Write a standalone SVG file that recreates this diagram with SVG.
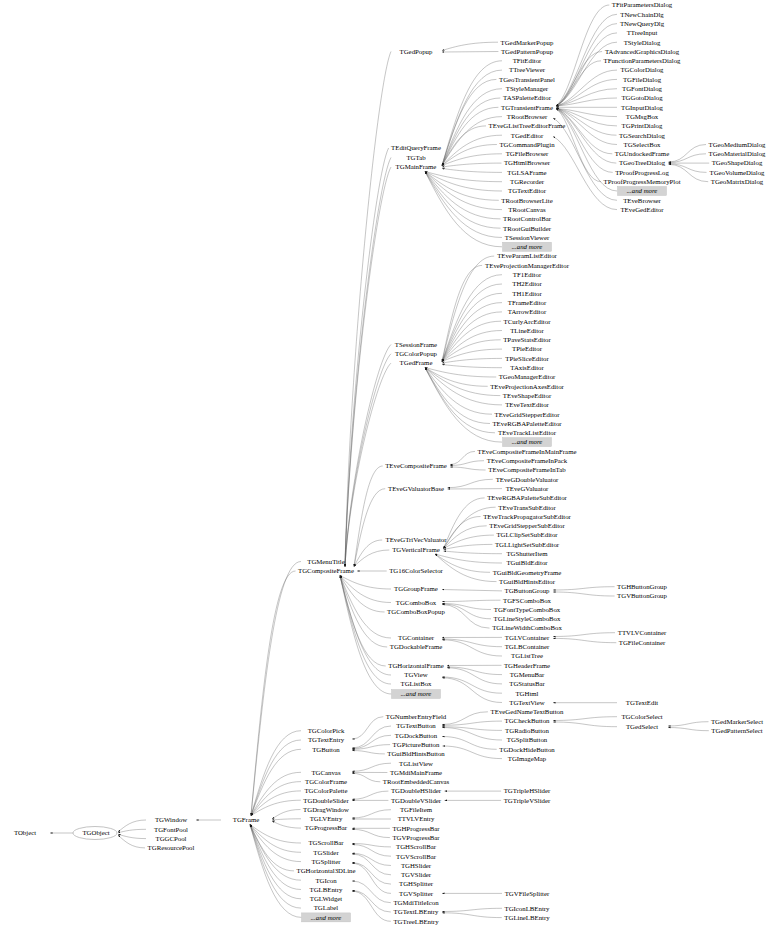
<svg xmlns="http://www.w3.org/2000/svg" width="768" height="928" viewBox="0 0 768 928">
<style>
#nodes text{font-family:"Liberation Serif","Times New Roman",serif;font-size:6.8px;text-anchor:middle;fill:#000}
#nodes text.i{font-style:italic}
#edges path{fill:none;stroke:#5a5a5a;stroke-width:.35;marker-end:url(#a)}
rect.m{fill:#d3d3d3;stroke:#bdbdbd;stroke-width:.4}
ellipse.o{fill:none;stroke:#9a9a9a;stroke-width:.6}
</style>
<defs>
<marker id="a" viewBox="-2.5 -1 2.8 2" refX="0" refY="0" markerWidth="2.8" markerHeight="2" markerUnits="userSpaceOnUse" orient="auto"><path d="M0,0 L-2.5,-0.85 L-2.5,0.85 z" fill="#111" stroke="none"/></marker>
</defs>
<rect width="768" height="928" fill="#fff"/>
<g id="edges">
<path d="M73,833 L50,833"/>
<path d="M146,820 C132,820 125,826 118,832"/>
<path d="M146,829.3 C132,829.3 125,831 118,832.8"/>
<path d="M146,838.6 C132,838.6 125,836.3 118,834.2"/>
<path d="M145,847.9 C131.5,847.9 124.8,841.4 118,835"/>
<path d="M221,820 L196,820"/>
<path d="M301,561.5 C276,561.5 263.5,688.5 251,815.5"/>
<path d="M295.5,571 C273.2,571 262.1,693.2 251,815.5"/>
<path d="M301,730.7 C276,730.7 263.5,773.1 251,815.5"/>
<path d="M301,740 C276,740 263.5,777.8 251,815.5"/>
<path d="M301,749.3 C276,749.3 263.5,782.4 251,815.5"/>
<path d="M301,772.3 C276,772.3 263.5,793.9 251,815.5"/>
<path d="M301,781.6 C276,781.6 263.5,798.6 251,815.5"/>
<path d="M301,790.9 C276,790.9 263.5,803.2 251,815.5"/>
<path d="M300.8,800.2 C275.9,800.2 263.5,807.9 251,815.5"/>
<path d="M300.5,809.5 C286.2,809.5 279.1,814.2 272,819"/>
<path d="M301,818.8 C286.5,818.8 279.2,819.4 272,820"/>
<path d="M301,828.1 C286.5,828.1 279.2,824.5 272,821"/>
<path d="M301,843 C275.5,843 262.8,833.8 250,824.5"/>
<path d="M301,852.3 C275.5,852.3 262.8,838.4 250,824.5"/>
<path d="M301,861.6 C275.5,861.6 262.8,843 250,824.5"/>
<path d="M294,870.9 C272,870.9 261,847.7 250,824.5"/>
<path d="M301,880.2 C275.5,880.2 262.8,852.4 250,824.5"/>
<path d="M301,889.5 C275.5,889.5 262.8,857 250,824.5"/>
<path d="M301,898.8 C275.5,898.8 262.8,861.7 250,824.5"/>
<path d="M301,908.1 C275.5,908.1 262.8,866.3 250,824.5"/>
<path d="M301.5,917.4 C275.8,917.4 262.8,871 250,824.5"/>
<path d="M391,51.5 C377.2,82.4 349.6,360.5 345,566.5"/>
<path d="M388.6,148 C375.5,173.1 349.4,399.1 345,566.5"/>
<path d="M391,157.5 C377.2,182 349.6,402.9 345,566.5"/>
<path d="M391,167 C377.2,191 349.6,406.7 345,566.5"/>
<path d="M391,344.5 C377.2,357.8 349.6,477.7 345,566.5"/>
<path d="M391,353.8 C377.2,366.6 349.6,481.4 345,566.5"/>
<path d="M391,363.1 C377.2,375.3 349.6,485.1 345,566.5"/>
<path d="M382.7,466 C368.3,466 361.2,516.2 354,566.5"/>
<path d="M385.2,488.7 C369.6,488.7 361.8,527.6 354,566.5"/>
<path d="M382.2,540 C368.1,540 361,553.2 354,566.5"/>
<path d="M389.3,550 C371.6,550 362.8,558.2 354,566.5"/>
<path d="M386.7,571 L357,571"/>
<path d="M391,589 C365.5,589 352.8,582.2 340,575.5"/>
<path d="M391,602.5 C365.5,602.5 352.8,589 340,575.5"/>
<path d="M384.6,612 C362.3,612 351.2,593.8 340,575.5"/>
<path d="M391,638 C365.5,638 352.8,606.8 340,575.5"/>
<path d="M387.2,647 C363.6,647 351.8,611.2 340,575.5"/>
<path d="M385.7,666 C362.9,666 351.4,620.8 340,575.5"/>
<path d="M391,675 C365.5,675 352.8,625.2 340,575.5"/>
<path d="M391,684 C365.5,684 352.8,629.8 340,575.5"/>
<path d="M391.5,694 C365.8,694 352.8,634.8 340,575.5"/>
<path d="M498,42.2 C470,42.2 456,46.3 442,50.5"/>
<path d="M498.4,51.5 L442,52"/>
<path d="M502,60.8 C472,60.8 457,113.2 442,165.5"/>
<path d="M502,70.1 C472,70.1 457,117.8 442,165.5"/>
<path d="M496.4,79.4 C469.2,79.4 455.6,122.4 442,165.5"/>
<path d="M502,88.7 C472,88.7 457,127.1 442,165.5"/>
<path d="M500.3,98 C471.2,98 456.6,131.8 442,165.5"/>
<path d="M498.4,107.3 C470.2,107.3 456.1,136.4 442,165.5"/>
<path d="M502,116.6 C472,116.6 457,141 442,165.5"/>
<path d="M486,125.9 C464,125.9 453,145.7 442,165.5"/>
<path d="M502,135.2 C472,135.2 457,150.4 442,165.5"/>
<path d="M496.9,144.5 C469.4,144.5 455.7,155 442,165.5"/>
<path d="M502,153.8 C472,153.8 457,159.6 442,165.5"/>
<path d="M501.5,163.1 C471.7,163.1 456.9,165 442,167"/>
<path d="M502,172.4 C472,172.4 457,170.4 442,168.5"/>
<path d="M502,181.7 C463.5,181.7 444.2,176.6 425,171.5"/>
<path d="M502,191 C463.5,191 444.2,181.2 425,171.5"/>
<path d="M498.8,200.3 C461.9,200.3 443.4,185.9 425,171.5"/>
<path d="M502,209.6 C463.5,209.6 444.2,190.5 425,171.5"/>
<path d="M500.5,218.9 C462.7,218.9 443.9,195.2 425,171.5"/>
<path d="M500.5,228.2 C462.7,228.2 443.9,199.8 425,171.5"/>
<path d="M502,237.5 C463.5,237.5 444.2,204.5 425,171.5"/>
<path d="M502,246.8 C463.5,246.8 444.2,209.1 425,171.5"/>
<path d="M494.2,256.1 C468.1,256.1 455,308.8 442,361.5"/>
<path d="M482.1,265.4 C462.1,265.4 452,313.5 442,361.5"/>
<path d="M502,274.7 C472,274.7 457,318.1 442,361.5"/>
<path d="M502,284 C472,284 457,322.8 442,361.5"/>
<path d="M502,293.3 C472,293.3 457,327.4 442,361.5"/>
<path d="M502,302.6 C472,302.6 457,332 442,361.5"/>
<path d="M502,311.9 C472,311.9 457,336.7 442,361.5"/>
<path d="M501.1,321.2 C471.5,321.2 456.8,341.4 442,361.5"/>
<path d="M502,330.5 C472,330.5 457,346 442,361.5"/>
<path d="M500.7,339.8 C471.3,339.8 456.7,350.6 442,361.5"/>
<path d="M502,349.1 C472,349.1 457,355.3 442,361.5"/>
<path d="M502,358.4 C472,358.4 457,360.7 442,363"/>
<path d="M502,367.7 C472,367.7 457,366.1 442,364.5"/>
<path d="M496.2,377 C460.6,377 442.8,372.2 425,367.5"/>
<path d="M487.7,386.3 C456.4,386.3 440.7,376.9 425,367.5"/>
<path d="M500.3,395.6 C462.7,395.6 443.8,381.5 425,367.5"/>
<path d="M502,404.9 C463.5,404.9 444.2,386.2 425,367.5"/>
<path d="M492,414.2 C458.5,414.2 441.8,390.8 425,367.5"/>
<path d="M490,423.5 C457.5,423.5 441.2,395.5 425,367.5"/>
<path d="M495,432.8 C460,432.8 442.5,400.2 425,367.5"/>
<path d="M502,442.1 C463.5,442.1 444.2,404.8 425,367.5"/>
<path d="M609.3,5 C585.3,5 574.7,90.9 556,106"/>
<path d="M617,14.3 C589.6,14.3 577.4,92.2 556,106"/>
<path d="M617,23.6 C589.6,23.6 577.4,93.6 556,106"/>
<path d="M617,32.9 C589.6,32.9 577.4,95 556,106"/>
<path d="M617,42.2 C589.6,42.2 577.4,96.4 556,106"/>
<path d="M602.1,51.5 C581.4,51.5 572.1,97.8 556,106"/>
<path d="M601,60.8 C580.8,60.8 571.8,99.2 556,106"/>
<path d="M617,70.1 C589.6,70.1 577.4,100.6 556,106"/>
<path d="M617,79.4 C589.6,79.4 577.4,102 556,106"/>
<path d="M617,88.7 C589.6,88.7 577.4,103.4 556,106"/>
<path d="M617,98 C589.6,98 577.4,104.8 556,106"/>
<path d="M617,107.3 L556,107.3"/>
<path d="M617,116.6 C589.6,116.6 577.4,109.7 556,108.5"/>
<path d="M617,125.9 C589.6,125.9 577.4,111.1 556,108.5"/>
<path d="M616.5,135.2 C589.3,135.2 577.2,112.5 556,108.5"/>
<path d="M617,144.5 C589.6,144.5 577.4,113.9 556,108.5"/>
<path d="M612.3,153.8 C587,153.8 575.7,115.3 556,108.5"/>
<path d="M616.3,163.1 C589.2,163.1 577.1,116.7 556,108.5"/>
<path d="M612.7,172.4 C587.2,172.4 575.8,118.1 556,108.5"/>
<path d="M601,181.7 C580.8,181.7 571.8,119.5 556,108.5"/>
<path d="M617,191 C589.6,191 577.4,120.9 556,108.5"/>
<path d="M617,200.3 C588.2,200.3 575.4,130.3 553,118"/>
<path d="M617,209.6 C588.2,209.6 575.4,147.5 553,136.5"/>
<path d="M706,144.5 C687.2,144.5 687.2,162 668.5,162"/>
<path d="M706,153.8 C687.2,153.8 687.2,162.5 668.5,162.5"/>
<path d="M709.2,163.1 L668.5,163.1"/>
<path d="M706.5,172.4 C687.5,172.4 687.5,163.8 668.5,163.8"/>
<path d="M708.2,181.7 C688.3,181.7 688.3,164.3 668.5,164.3"/>
<path d="M475,451.4 C462.5,451.4 462.5,464.5 450,464.5"/>
<path d="M484,460.7 C467,460.7 467,465.5 450,465.5"/>
<path d="M485.6,470 C467.8,470 467.8,467 450,467"/>
<path d="M492.8,479.3 C470.2,479.3 470.2,487.7 447.5,487.7"/>
<path d="M502,488.6 L447.5,489"/>
<path d="M484.6,497.9 C464,497.9 453.8,523.2 443.5,548.5"/>
<path d="M495.6,507.2 C469.5,507.2 456.5,527.8 443.5,548.5"/>
<path d="M480.5,516.5 C462,516.5 452.8,532.5 443.5,548.5"/>
<path d="M486.7,525.8 C465.1,525.8 454.3,537.2 443.5,548.5"/>
<path d="M493.9,535.1 C468.7,535.1 456.1,541.8 443.5,548.5"/>
<path d="M492.4,544.4 C468,544.4 455.7,547 443.5,549.5"/>
<path d="M502,553.7 C472.8,553.7 458.1,552.4 443.5,551"/>
<path d="M502,563 C468.5,563 451.8,558.5 435,554"/>
<path d="M490.1,572.3 C462.5,572.3 448.8,563.2 435,554"/>
<path d="M496.5,581.6 C465.8,581.6 450.4,567.8 435,554"/>
<path d="M502,590.9 L442,589.5"/>
<path d="M614.6,586.7 C584,586.7 584,590 553,590"/>
<path d="M614.6,596 C584,596 584,592 553,592"/>
<path d="M500.5,600.2 C471,600.2 471,601.5 442,601.5"/>
<path d="M491,609.5 C466.5,609.5 466.5,603.5 442,603.5"/>
<path d="M491,618.8 C466.5,618.8 466.5,604 442,604"/>
<path d="M489.5,628.1 C465.7,628.1 465.7,604.5 442,604.5"/>
<path d="M502,637.4 L442,637.5"/>
<path d="M502,646.7 C472,646.7 472,639 442,639"/>
<path d="M502,656 C472,656 472,639.8 442,639.8"/>
<path d="M615,632.7 C584,632.7 584,636.5 553,636.5"/>
<path d="M616.3,642.7 C584.6,642.7 584.6,638.4 553,638.4"/>
<path d="M501.5,665.3 L447,665.5"/>
<path d="M502,674.6 C474.5,674.6 474.5,667 447,667"/>
<path d="M502,683.9 C474.5,683.9 474.5,667.8 447,667.8"/>
<path d="M502,693.2 C472,693.2 472,677 442,677"/>
<path d="M502,702.5 C472,702.5 472,677.8 442,677.8"/>
<path d="M617,702.7 L553,702.7"/>
<path d="M383.3,716.7 C367.6,716.7 367.6,739 352,739"/>
<path d="M391,726 C371.5,726 371.5,748 352,748"/>
<path d="M391,735.3 C371.5,735.3 371.5,748.7 352,748.7"/>
<path d="M390.1,744.6 C371,744.6 371,749.3 352,749.3"/>
<path d="M384.8,753.9 C368.4,753.9 368.4,750.5 352,750.5"/>
<path d="M487.9,711.8 C465,711.8 465,724.5 442,724.5"/>
<path d="M502,721.1 C472,721.1 472,725.3 442,725.3"/>
<path d="M502,730.4 C472,730.4 472,726.8 442,726.8"/>
<path d="M502,740 C472,740 472,727.5 442,727.5"/>
<path d="M496.7,749.3 C469.3,749.3 469.3,736.5 442,736.5"/>
<path d="M502,758.6 C472,758.6 472,746 442.5,746"/>
<path d="M617,716.7 C585,716.7 585,720.5 553,720.5"/>
<path d="M617,726.7 C585,726.7 585,722 553,722"/>
<path d="M708.5,721.7 C688.2,721.7 688.2,726 668,726"/>
<path d="M708.8,730.7 C688.4,730.7 688.4,727.5 668,727.5"/>
<path d="M391,763.2 C371.5,763.2 371.5,771.3 352,771.3"/>
<path d="M387.4,772.5 L352,772.4"/>
<path d="M380.3,781.8 C366.2,781.8 366.2,773.3 352,773.3"/>
<path d="M388.4,791.1 C370.2,791.1 370.2,799.3 352,799.3"/>
<path d="M388.4,800.4 L352,800.4"/>
<path d="M501.1,791.1 L444.5,791.1"/>
<path d="M501.1,800.4 L444.5,800.4"/>
<path d="M391,809.7 C371.5,809.7 371.5,818 352,818"/>
<path d="M391,819 L352,819"/>
<path d="M389.9,828.3 L352,828.3"/>
<path d="M389.9,837.6 C371,837.6 371,829.3 352,829.3"/>
<path d="M391,846.9 C371.5,846.9 371.5,843.5 352,843.5"/>
<path d="M391,856.2 C371.5,856.2 371.5,844.5 352,844.5"/>
<path d="M391,865.5 C371.5,865.5 371.5,853.3 352,853.3"/>
<path d="M391,874.8 C371.5,874.8 371.5,854 352,854"/>
<path d="M391,884.1 C371.5,884.1 371.5,862.6 352,862.6"/>
<path d="M391,893.4 C371.5,893.4 371.5,863.3 352,863.3"/>
<path d="M502,893.4 L442,893.4"/>
<path d="M390.8,902.7 C371.4,902.7 371.4,881 352,881"/>
<path d="M390.8,912 C371.4,912 371.4,890.5 352,890.5"/>
<path d="M390.8,921.3 C371.4,921.3 371.4,891.2 352,891.2"/>
<path d="M502,908.3 C472,908.3 472,911.5 442,911.5"/>
<path d="M501.8,917.6 C471.9,917.6 471.9,912.8 442,912.8"/>
</g>
<g id="nodes">
<g id="TObject"><text x="25" y="835.3">TObject</text></g>
<g id="TGObject"><ellipse class="o" cx="95" cy="833" rx="22" ry="6.5"/><text x="96" y="835.3">TGObject</text></g>
<g id="TGWindow"><text x="171" y="822.3">TGWindow</text></g>
<g id="TGFontPool"><text x="171" y="831.6">TGFontPool</text></g>
<g id="TGGCPool"><text x="171" y="840.9">TGGCPool</text></g>
<g id="TGResourcePool"><text x="171" y="850.2">TGResourcePool</text></g>
<g id="TGFrame"><text x="246" y="822.3">TGFrame</text></g>
<g id="TGMenuTitle"><text x="326" y="563.8">TGMenuTitle</text></g>
<g id="TGCompositeFrame"><text x="326" y="573.3">TGCompositeFrame</text></g>
<g id="TGColorPick"><text x="326" y="733">TGColorPick</text></g>
<g id="TGTextEntry"><text x="326" y="742.3">TGTextEntry</text></g>
<g id="TGButton"><text x="326" y="751.6">TGButton</text></g>
<g id="TGCanvas"><text x="326" y="774.6">TGCanvas</text></g>
<g id="TGColorFrame"><text x="326" y="783.9">TGColorFrame</text></g>
<g id="TGColorPalette"><text x="326" y="793.2">TGColorPalette</text></g>
<g id="TGDoubleSlider"><text x="326" y="802.5">TGDoubleSlider</text></g>
<g id="TGDragWindow"><text x="326" y="811.8">TGDragWindow</text></g>
<g id="TGLVEntry"><text x="326" y="821.1">TGLVEntry</text></g>
<g id="TGProgressBar"><text x="326" y="830.4">TGProgressBar</text></g>
<g id="TGScrollBar"><text x="326" y="845.3">TGScrollBar</text></g>
<g id="TGSlider"><text x="326" y="854.6">TGSlider</text></g>
<g id="TGSplitter"><text x="326" y="863.9">TGSplitter</text></g>
<g id="TGHorizontal3DLine"><text x="326" y="873.2">TGHorizontal3DLine</text></g>
<g id="TGIcon"><text x="326" y="882.5">TGIcon</text></g>
<g id="TGLBEntry"><text x="326" y="891.8">TGLBEntry</text></g>
<g id="TGLWidget"><text x="326" y="901.1">TGLWidget</text></g>
<g id="TGLabel"><text x="326" y="910.4">TGLabel</text></g>
<g id="more_TGFrame"><rect class="m" x="301.5" y="912.9" width="49" height="9"/><text class="i" x="326" y="919.7">...and more</text></g>
<g id="TGedPopup"><text x="416" y="53.8">TGedPopup</text></g>
<g id="TEditQueryFrame"><text x="416" y="150.3">TEditQueryFrame</text></g>
<g id="TGTab"><text x="416" y="159.8">TGTab</text></g>
<g id="TGMainFrame"><text x="416" y="169.3">TGMainFrame</text></g>
<g id="TSessionFrame"><text x="416" y="346.8">TSessionFrame</text></g>
<g id="TGColorPopup"><text x="416" y="356.1">TGColorPopup</text></g>
<g id="TGedFrame"><text x="416" y="365.4">TGedFrame</text></g>
<g id="TEveCompositeFrame"><text x="416" y="468.3">TEveCompositeFrame</text></g>
<g id="TEveGValuatorBase"><text x="416" y="491">TEveGValuatorBase</text></g>
<g id="TEveGTriVecValuator"><text x="416" y="542.3">TEveGTriVecValuator</text></g>
<g id="TGVerticalFrame"><text x="416" y="552.3">TGVerticalFrame</text></g>
<g id="TG16ColorSelector"><text x="416" y="573.3">TG16ColorSelector</text></g>
<g id="TGGroupFrame"><text x="416" y="591.3">TGGroupFrame</text></g>
<g id="TGComboBox"><text x="416" y="604.8">TGComboBox</text></g>
<g id="TGComboBoxPopup"><text x="416" y="614.3">TGComboBoxPopup</text></g>
<g id="TGContainer"><text x="416" y="640.3">TGContainer</text></g>
<g id="TGDockableFrame"><text x="416" y="649.3">TGDockableFrame</text></g>
<g id="TGHorizontalFrame"><text x="416" y="668.3">TGHorizontalFrame</text></g>
<g id="TGView"><text x="416" y="677.3">TGView</text></g>
<g id="TGListBox"><text x="416" y="686.3">TGListBox</text></g>
<g id="more_TGCompositeFrame"><rect class="m" x="391.5" y="689.5" width="49" height="9"/><text class="i" x="416" y="696.3">...and more</text></g>
<g id="TGNumberEntryField"><text x="416" y="719">TGNumberEntryField</text></g>
<g id="TGTextButton"><text x="416" y="728.3">TGTextButton</text></g>
<g id="TGDockButton"><text x="416" y="737.6">TGDockButton</text></g>
<g id="TGPictureButton"><text x="416" y="746.9">TGPictureButton</text></g>
<g id="TGuiBldHintsButton"><text x="416" y="756.2">TGuiBldHintsButton</text></g>
<g id="TGListView"><text x="416" y="765.5">TGListView</text></g>
<g id="TGMdiMainFrame"><text x="416" y="774.8">TGMdiMainFrame</text></g>
<g id="TRootEmbeddedCanvas"><text x="416" y="784.1">TRootEmbeddedCanvas</text></g>
<g id="TGDoubleHSlider"><text x="416" y="793.4">TGDoubleHSlider</text></g>
<g id="TGDoubleVSlider"><text x="416" y="802.7">TGDoubleVSlider</text></g>
<g id="TGFileItem"><text x="416" y="812">TGFileItem</text></g>
<g id="TTVLVEntry"><text x="416" y="821.3">TTVLVEntry</text></g>
<g id="TGHProgressBar"><text x="416" y="830.6">TGHProgressBar</text></g>
<g id="TGVProgressBar"><text x="416" y="839.9">TGVProgressBar</text></g>
<g id="TGHScrollBar"><text x="416" y="849.2">TGHScrollBar</text></g>
<g id="TGVScrollBar"><text x="416" y="858.5">TGVScrollBar</text></g>
<g id="TGHSlider"><text x="416" y="867.8">TGHSlider</text></g>
<g id="TGVSlider"><text x="416" y="877.1">TGVSlider</text></g>
<g id="TGHSplitter"><text x="416" y="886.4">TGHSplitter</text></g>
<g id="TGVSplitter"><text x="416" y="895.7">TGVSplitter</text></g>
<g id="TGMdiTitleIcon"><text x="416" y="905">TGMdiTitleIcon</text></g>
<g id="TGTextLBEntry"><text x="416" y="914.3">TGTextLBEntry</text></g>
<g id="TGTreeLBEntry"><text x="416" y="923.6">TGTreeLBEntry</text></g>
<g id="TGedMarkerPopup"><text x="527" y="44.5">TGedMarkerPopup</text></g>
<g id="TGedPatternPopup"><text x="527" y="53.8">TGedPatternPopup</text></g>
<g id="TFitEditor"><text x="527" y="63.1">TFitEditor</text></g>
<g id="TTreeViewer"><text x="527" y="72.4">TTreeViewer</text></g>
<g id="TGeoTransientPanel"><text x="527" y="81.7">TGeoTransientPanel</text></g>
<g id="TStyleManager"><text x="527" y="91">TStyleManager</text></g>
<g id="TASPaletteEditor"><text x="527" y="100.3">TASPaletteEditor</text></g>
<g id="TGTransientFrame"><text x="527" y="109.6">TGTransientFrame</text></g>
<g id="TRootBrowser"><text x="527" y="118.9">TRootBrowser</text></g>
<g id="TEveGListTreeEditorFrame"><text x="527" y="128.2">TEveGListTreeEditorFrame</text></g>
<g id="TGedEditor"><text x="527" y="137.5">TGedEditor</text></g>
<g id="TGCommandPlugin"><text x="527" y="146.8">TGCommandPlugin</text></g>
<g id="TGFileBrowser"><text x="527" y="156.1">TGFileBrowser</text></g>
<g id="TGHtmlBrowser"><text x="527" y="165.4">TGHtmlBrowser</text></g>
<g id="TGLSAFrame"><text x="527" y="174.7">TGLSAFrame</text></g>
<g id="TGRecorder"><text x="527" y="184">TGRecorder</text></g>
<g id="TGTextEditor"><text x="527" y="193.3">TGTextEditor</text></g>
<g id="TRootBrowserLite"><text x="527" y="202.6">TRootBrowserLite</text></g>
<g id="TRootCanvas"><text x="527" y="211.9">TRootCanvas</text></g>
<g id="TRootControlBar"><text x="527" y="221.2">TRootControlBar</text></g>
<g id="TRootGuiBuilder"><text x="527" y="230.5">TRootGuiBuilder</text></g>
<g id="TSessionViewer"><text x="527" y="239.8">TSessionViewer</text></g>
<g id="more_TGMainFrame"><rect class="m" x="502.5" y="242.3" width="49" height="9"/><text class="i" x="527" y="249.1">...and more</text></g>
<g id="TEveParamListEditor"><text x="527" y="258.4">TEveParamListEditor</text></g>
<g id="TEveProjectionManagerEditor"><text x="527" y="267.7">TEveProjectionManagerEditor</text></g>
<g id="TF1Editor"><text x="527" y="277">TF1Editor</text></g>
<g id="TH2Editor"><text x="527" y="286.3">TH2Editor</text></g>
<g id="TH1Editor"><text x="527" y="295.6">TH1Editor</text></g>
<g id="TFrameEditor"><text x="527" y="304.9">TFrameEditor</text></g>
<g id="TArrowEditor"><text x="527" y="314.2">TArrowEditor</text></g>
<g id="TCurlyArcEditor"><text x="527" y="323.5">TCurlyArcEditor</text></g>
<g id="TLineEditor"><text x="527" y="332.8">TLineEditor</text></g>
<g id="TPaveStatsEditor"><text x="527" y="342.1">TPaveStatsEditor</text></g>
<g id="TPieEditor"><text x="527" y="351.4">TPieEditor</text></g>
<g id="TPieSliceEditor"><text x="527" y="360.7">TPieSliceEditor</text></g>
<g id="TAxisEditor"><text x="527" y="370">TAxisEditor</text></g>
<g id="TGeoManagerEditor"><text x="527" y="379.3">TGeoManagerEditor</text></g>
<g id="TEveProjectionAxesEditor"><text x="527" y="388.6">TEveProjectionAxesEditor</text></g>
<g id="TEveShapeEditor"><text x="527" y="397.9">TEveShapeEditor</text></g>
<g id="TEveTextEditor"><text x="527" y="407.2">TEveTextEditor</text></g>
<g id="TEveGridStepperEditor"><text x="527" y="416.5">TEveGridStepperEditor</text></g>
<g id="TEveRGBAPaletteEditor"><text x="527" y="425.8">TEveRGBAPaletteEditor</text></g>
<g id="TEveTrackListEditor"><text x="527" y="435.1">TEveTrackListEditor</text></g>
<g id="more_TGedFrame"><rect class="m" x="502.5" y="437.6" width="49" height="9"/><text class="i" x="527" y="444.4">...and more</text></g>
<g id="TEveCompositeFrameInMainFrame"><text x="527" y="453.7">TEveCompositeFrameInMainFrame</text></g>
<g id="TEveCompositeFrameInPack"><text x="527" y="463">TEveCompositeFrameInPack</text></g>
<g id="TEveCompositeFrameInTab"><text x="527" y="472.3">TEveCompositeFrameInTab</text></g>
<g id="TEveGDoubleValuator"><text x="527" y="481.6">TEveGDoubleValuator</text></g>
<g id="TEveGValuator"><text x="527" y="490.9">TEveGValuator</text></g>
<g id="TEveRGBAPaletteSubEditor"><text x="527" y="500.2">TEveRGBAPaletteSubEditor</text></g>
<g id="TEveTransSubEditor"><text x="527" y="509.5">TEveTransSubEditor</text></g>
<g id="TEveTrackPropagatorSubEditor"><text x="527" y="518.8">TEveTrackPropagatorSubEditor</text></g>
<g id="TEveGridStepperSubEditor"><text x="527" y="528.1">TEveGridStepperSubEditor</text></g>
<g id="TGLClipSetSubEditor"><text x="527" y="537.4">TGLClipSetSubEditor</text></g>
<g id="TGLLightSetSubEditor"><text x="527" y="546.7">TGLLightSetSubEditor</text></g>
<g id="TGShutterItem"><text x="527" y="556">TGShutterItem</text></g>
<g id="TGuiBldEditor"><text x="527" y="565.3">TGuiBldEditor</text></g>
<g id="TGuiBldGeometryFrame"><text x="527" y="574.6">TGuiBldGeometryFrame</text></g>
<g id="TGuiBldHintsEditor"><text x="527" y="583.9">TGuiBldHintsEditor</text></g>
<g id="TGButtonGroup"><text x="527" y="593.2">TGButtonGroup</text></g>
<g id="TGFSComboBox"><text x="527" y="602.5">TGFSComboBox</text></g>
<g id="TGFontTypeComboBox"><text x="527" y="611.8">TGFontTypeComboBox</text></g>
<g id="TGLineStyleComboBox"><text x="527" y="621.1">TGLineStyleComboBox</text></g>
<g id="TGLineWidthComboBox"><text x="527" y="630.4">TGLineWidthComboBox</text></g>
<g id="TGLVContainer"><text x="527" y="639.7">TGLVContainer</text></g>
<g id="TGLBContainer"><text x="527" y="649">TGLBContainer</text></g>
<g id="TGListTree"><text x="527" y="658.3">TGListTree</text></g>
<g id="TGHeaderFrame"><text x="527" y="667.6">TGHeaderFrame</text></g>
<g id="TGMenuBar"><text x="527" y="676.9">TGMenuBar</text></g>
<g id="TGStatusBar"><text x="527" y="686.2">TGStatusBar</text></g>
<g id="TGHtml"><text x="527" y="695.5">TGHtml</text></g>
<g id="TGTextView"><text x="527" y="704.8">TGTextView</text></g>
<g id="TEveGedNameTextButton"><text x="527" y="714.1">TEveGedNameTextButton</text></g>
<g id="TGCheckButton"><text x="527" y="723.4">TGCheckButton</text></g>
<g id="TGRadioButton"><text x="527" y="732.7">TGRadioButton</text></g>
<g id="TGSplitButton"><text x="527" y="742.3">TGSplitButton</text></g>
<g id="TGDockHideButton"><text x="527" y="751.6">TGDockHideButton</text></g>
<g id="TGImageMap"><text x="527" y="760.9">TGImageMap</text></g>
<g id="TGTripleHSlider"><text x="527" y="793.4">TGTripleHSlider</text></g>
<g id="TGTripleVSlider"><text x="527" y="802.7">TGTripleVSlider</text></g>
<g id="TGVFileSplitter"><text x="527" y="895.7">TGVFileSplitter</text></g>
<g id="TGIconLBEntry"><text x="527" y="910.6">TGIconLBEntry</text></g>
<g id="TGLineLBEntry"><text x="527" y="919.9">TGLineLBEntry</text></g>
<g id="TFitParametersDialog"><text x="642" y="7.3">TFitParametersDialog</text></g>
<g id="TNewChainDlg"><text x="642" y="16.6">TNewChainDlg</text></g>
<g id="TNewQueryDlg"><text x="642" y="25.9">TNewQueryDlg</text></g>
<g id="TTreeInput"><text x="642" y="35.2">TTreeInput</text></g>
<g id="TStyleDialog"><text x="642" y="44.5">TStyleDialog</text></g>
<g id="TAdvancedGraphicsDialog"><text x="642" y="53.8">TAdvancedGraphicsDialog</text></g>
<g id="TFunctionParametersDialog"><text x="642" y="63.1">TFunctionParametersDialog</text></g>
<g id="TGColorDialog"><text x="642" y="72.4">TGColorDialog</text></g>
<g id="TGFileDialog"><text x="642" y="81.7">TGFileDialog</text></g>
<g id="TGFontDialog"><text x="642" y="91">TGFontDialog</text></g>
<g id="TGGotoDialog"><text x="642" y="100.3">TGGotoDialog</text></g>
<g id="TGInputDialog"><text x="642" y="109.6">TGInputDialog</text></g>
<g id="TGMsgBox"><text x="642" y="118.9">TGMsgBox</text></g>
<g id="TGPrintDialog"><text x="642" y="128.2">TGPrintDialog</text></g>
<g id="TGSearchDialog"><text x="642" y="137.5">TGSearchDialog</text></g>
<g id="TGSelectBox"><text x="642" y="146.8">TGSelectBox</text></g>
<g id="TGUndockedFrame"><text x="642" y="156.1">TGUndockedFrame</text></g>
<g id="TGeoTreeDialog"><text x="642" y="165.4">TGeoTreeDialog</text></g>
<g id="TProofProgressLog"><text x="642" y="174.7">TProofProgressLog</text></g>
<g id="TProofProgressMemoryPlot"><text x="642" y="184">TProofProgressMemoryPlot</text></g>
<g id="more_TGTransientFrame"><rect class="m" x="617.5" y="186.5" width="49" height="9"/><text class="i" x="642" y="193.3">...and more</text></g>
<g id="TEveBrowser"><text x="642" y="202.6">TEveBrowser</text></g>
<g id="TEveGedEditor"><text x="642" y="211.9">TEveGedEditor</text></g>
<g id="TGHButtonGroup"><text x="642" y="589">TGHButtonGroup</text></g>
<g id="TGVButtonGroup"><text x="642" y="598.3">TGVButtonGroup</text></g>
<g id="TTVLVContainer"><text x="642" y="635">TTVLVContainer</text></g>
<g id="TGFileContainer"><text x="642" y="645">TGFileContainer</text></g>
<g id="TGTextEdit"><text x="642" y="705">TGTextEdit</text></g>
<g id="TGColorSelect"><text x="642" y="719">TGColorSelect</text></g>
<g id="TGedSelect"><text x="642" y="729">TGedSelect</text></g>
<g id="TGeoMediumDialog"><text x="737" y="146.8">TGeoMediumDialog</text></g>
<g id="TGeoMaterialDialog"><text x="737" y="156.1">TGeoMaterialDialog</text></g>
<g id="TGeoShapeDialog"><text x="737" y="165.4">TGeoShapeDialog</text></g>
<g id="TGeoVolumeDialog"><text x="737" y="174.7">TGeoVolumeDialog</text></g>
<g id="TGeoMatrixDialog"><text x="737" y="184">TGeoMatrixDialog</text></g>
<g id="TGedMarkerSelect"><text x="737" y="724">TGedMarkerSelect</text></g>
<g id="TGedPatternSelect"><text x="737" y="733">TGedPatternSelect</text></g>
</g>
</svg>
